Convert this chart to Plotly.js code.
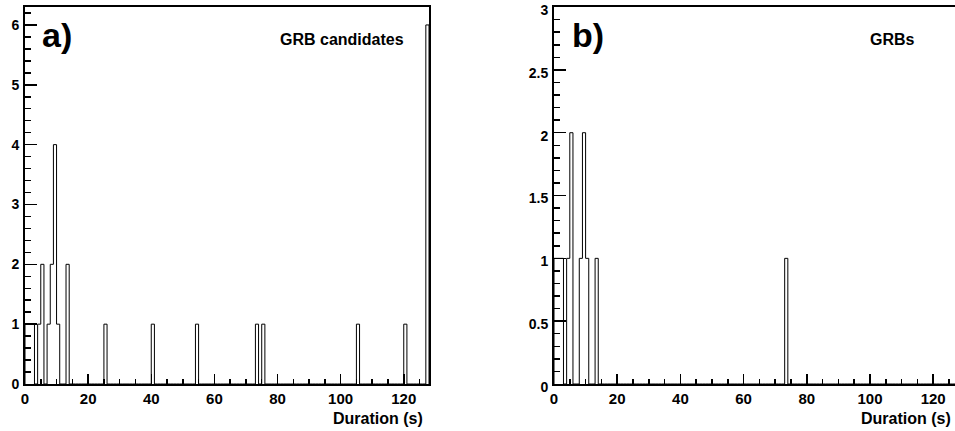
<!DOCTYPE html>
<html><head><meta charset="utf-8">
<script src="https://cdn.plot.ly/plotly-3.0.1.min.js"></script>
<style>html,body{margin:0;padding:0;background:#fff}#chart{width:955px;height:431px}</style>
</head><body><div id="chart"></div>
<script>
// Histogram: 1 s bins from 0 to 128 s; lower bin edges (s) of non-empty bins and their counts
const nBins = 128;
const binWidth = 1;
const binStartsA = [0, 1, 2, 4, 5, 7, 8, 9, 10, 13, 25, 40, 54, 73, 75, 105, 120, 127];
const countsA    = [1, 1, 1, 1, 2, 1, 2, 4, 1, 2, 1, 1, 1, 1, 1, 1, 1, 6];
const binStartsB = [0, 1, 2, 4, 5, 8, 9, 10, 13, 73];
const countsB    = [1, 1, 1, 1, 2, 1, 2, 1, 1, 1];
const xTickVals = [0, 20, 40, 60, 80, 100, 120];
const yTickValsA = [0, 1, 2, 3, 4, 5, 6];
const yTickValsB = [0, 0.5, 1, 1.5, 2, 2.5, 3];
const panelLabels = ['a)', 'b)'];
const panelTitles = ['GRB candidates', 'GRBs'];
const xTitle = 'Duration (s)';

function stepOutline(starts, counts) {
  const h = new Array(nBins).fill(0);
  starts.forEach((d, i) => { h[Math.floor(d / binWidth)] += counts[i]; });
  const x = [0], y = [0];
  for (let i = 0; i < nBins; i++) { x.push(i * binWidth); y.push(h[i]); }
  x.push(nBins * binWidth); y.push(h[nBins - 1]);
  x.push(nBins * binWidth); y.push(0);
  return {x, y};
}
const bold = v => '<b>' + v + '</b>';

const W = 955, H = 431;
const sA = stepOutline(binStartsA, countsA);
const sB = stepOutline(binStartsB, countsB);
const lineStyle = {color: '#000', width: 1, shape: 'hv'};
const data = [
  {x: sA.x, y: sA.y, mode: 'lines', line: lineStyle, xaxis: 'x', yaxis: 'y', hoverinfo: 'skip'},
  {x: sB.x, y: sB.y, mode: 'lines', line: lineStyle, xaxis: 'x2', yaxis: 'y2', hoverinfo: 'skip'}
];

const xTickFont = {family: 'Liberation Sans, Arial, sans-serif', size: 15, color: '#000', weight: 700};
const yTickFont = {family: 'Liberation Sans, Arial, sans-serif', size: 14, color: '#000', weight: 700};
const ydom = [(H - 384) / H, (H - 7) / H];
function xax(dom, range, anchor) {
  return {domain: dom, range: range, anchor: anchor, tickmode: 'array', tickvals: xTickVals, ticktext: xTickVals.map(bold),
    ticks: 'inside', ticklen: 10, tickwidth: 1.5, tickcolor: '#000', showline: true, linewidth: 2, linecolor: '#000', mirror: true,
    showgrid: false, zeroline: false, tickfont: xTickFont, fixedrange: true, ticklabeloverflow: 'allow',
    minor: {dtick: 5, tick0: 0, ticks: 'inside', ticklen: 5, tickwidth: 1.5, tickcolor: '#000', showgrid: false}};
}
function yax(range, vals, mdtick, anchor, mirror, shift) {
  return {domain: ydom, range: range, anchor: anchor, tickmode: 'array', tickvals: vals, ticktext: vals.map(bold),
    ticks: 'inside', ticklen: 12, tickwidth: 1.5, tickcolor: '#000', showline: true, linewidth: 2, linecolor: '#000', mirror: mirror,
    showgrid: false, zeroline: false, tickfont: yTickFont, fixedrange: true, ticklabelstandoff: 1, ticklabeloverflow: 'allow',
    ticklabelshift: shift,
    minor: {dtick: mdtick, tick0: 0, ticks: 'inside', ticklen: 6, tickwidth: 1.5, tickcolor: '#000', showgrid: false}};
}

const labFont = {family: 'Liberation Sans, Arial, sans-serif', color: '#000'};
const layout = {
  width: W, height: H, margin: {l: 0, r: 0, t: 0, b: 0},
  paper_bgcolor: '#fff', plot_bgcolor: '#fff', showlegend: false,
  xaxis: xax([25 / W, 429 / W], [0, 128], 'y'),
  yaxis: yax([0, 6.3], yTickValsA, 0.2, 'x', true, 0),
  xaxis2: xax([554 / W, 1], [0, (W - 554) / 3.16], 'y2'),
  yaxis2: yax([0, 3.0005], yTickValsB, 0.1, 'x2', false, 3),
  annotations: [
    {text: bold(panelLabels[0]), xref: 'paper', yref: 'paper', x: 40 / W, y: (H - 35) / H, xanchor: 'left', yanchor: 'middle', showarrow: false, font: Object.assign({size: 34}, labFont)},
    {text: bold(panelLabels[1]), xref: 'paper', yref: 'paper', x: 570 / W, y: (H - 35) / H, xanchor: 'left', yanchor: 'middle', showarrow: false, font: Object.assign({size: 34}, labFont)},
    {text: bold(panelTitles[0]), xref: 'paper', yref: 'paper', x: 406 / W, y: (H - 39) / H, xanchor: 'right', yanchor: 'middle', showarrow: false, font: Object.assign({size: 16}, labFont)},
    {text: bold(panelTitles[1]), xref: 'paper', yref: 'paper', x: 917 / W, y: (H - 39) / H, xanchor: 'right', yanchor: 'middle', showarrow: false, font: Object.assign({size: 16}, labFont)},
    {text: bold(xTitle), xref: 'paper', yref: 'paper', x: 425 / W, y: (H - 418) / H, xanchor: 'right', yanchor: 'middle', showarrow: false, font: Object.assign({size: 16}, labFont)},
    {text: bold(xTitle), xref: 'paper', yref: 'paper', x: 953 / W, y: (H - 418) / H, xanchor: 'right', yanchor: 'middle', showarrow: false, font: Object.assign({size: 16}, labFont)}
  ]
};
Plotly.newPlot('chart', data, layout, {staticPlot: true, displayModeBar: false});
</script></body></html>
